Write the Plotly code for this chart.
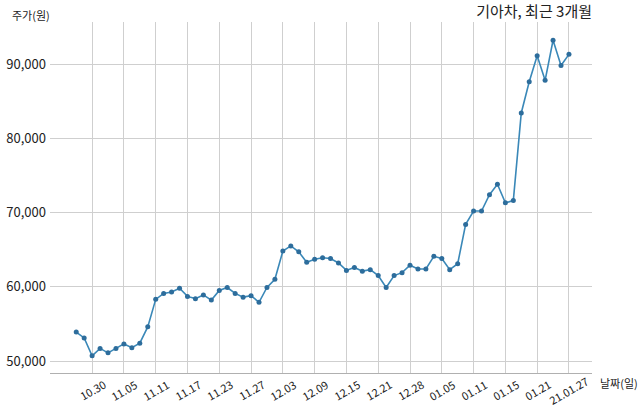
import plotly.graph_objects as go

dates = [
    "2020-10-28", "2020-10-29", "2020-10-30",
    "2020-11-02", "2020-11-03", "2020-11-04", "2020-11-05", "2020-11-06",
    "2020-11-09", "2020-11-10", "2020-11-11", "2020-11-12", "2020-11-13",
    "2020-11-16", "2020-11-17", "2020-11-18", "2020-11-19", "2020-11-20",
    "2020-11-23", "2020-11-24", "2020-11-25", "2020-11-26", "2020-11-27",
    "2020-11-30",
    "2020-12-01", "2020-12-02", "2020-12-03", "2020-12-04",
    "2020-12-07", "2020-12-08", "2020-12-09", "2020-12-10", "2020-12-11",
    "2020-12-14", "2020-12-15", "2020-12-16", "2020-12-17", "2020-12-18",
    "2020-12-21", "2020-12-22", "2020-12-23", "2020-12-24",
    "2020-12-28", "2020-12-29", "2020-12-30",
    "2021-01-04", "2021-01-05", "2021-01-06", "2021-01-07", "2021-01-08",
    "2021-01-11", "2021-01-12", "2021-01-13", "2021-01-14", "2021-01-15",
    "2021-01-18", "2021-01-19", "2021-01-20", "2021-01-21", "2021-01-22",
    "2021-01-25", "2021-01-26", "2021-01-27",
]

prices = [
    53900, 53100, 50700,
    51700, 51100, 51700, 52300, 51800,
    52400, 54600, 58300, 59100, 59300,
    59800, 58700, 58400, 58900, 58200,
    59500, 59900, 59100, 58600, 58800,
    57900,
    59900, 61000, 64800, 65500,
    64700, 63300, 63700, 63900, 63800,
    63200, 62200, 62600, 62100, 62300,
    61500, 59900, 61500, 61900,
    62900, 62400, 62400,
    64100, 63800, 62300, 63100, 68400,
    70200, 70200, 72400, 73800, 71300,
    71600, 83400, 87600, 91100, 87800,
    93200, 89800, 91300,
]

tick_dates = [
    "2020-10-30", "2020-11-05", "2020-11-11", "2020-11-17", "2020-11-23",
    "2020-11-27", "2020-12-03", "2020-12-09", "2020-12-15", "2020-12-21",
    "2020-12-28", "2021-01-05", "2021-01-11", "2021-01-15", "2021-01-21",
    "2021-01-27",
]
tick_labels = [
    "10.30", "11.05", "11.11", "11.17", "11.23", "11.27", "12.03", "12.09",
    "12.15", "12.21", "12.28", "01.05", "01.11", "01.15", "01.21", "21.01.27",
]

y_ticks = [50000, 60000, 70000, 80000, 90000]

title_text = "기아차, 최근 3개월"
y_label = "주가(원)"
x_label = "날짜(일)"

FONT = "Noto Sans CJK KR"
TXT = "#222222"
GRID = "#cfcfcf"

fig = go.Figure()
fig.add_trace(go.Scatter(
    x=dates, y=prices, mode="lines+markers",
    line=dict(color="#3a88b8", width=1.6),
    marker=dict(color="#2d6d9c", size=5),
    hoverinfo="x+y",
))

annotations = []
for d, lab in zip(tick_dates, tick_labels):
    annotations.append(dict(
        x=d, xref="x", y=-0.048, yref="paper", text=lab, showarrow=False,
        textangle=-30, xanchor="center", yanchor="middle",
        font=dict(family=FONT, size=11, color=TXT),
    ))
annotations.append(dict(
    x=-0.074, xref="paper", y=1.02, yref="paper", text=y_label, showarrow=False,
    xanchor="left", yanchor="middle", font=dict(family=FONT, size=11, color=TXT),
))
annotations.append(dict(
    x=1.011, xref="paper", y=-0.029, yref="paper", text=x_label, showarrow=False,
    xanchor="left", yanchor="middle", font=dict(family=FONT, size=11, color=TXT),
))

fig.update_layout(
    width=640, height=414,
    margin=dict(l=50, r=48, t=22, b=41),
    paper_bgcolor="white", plot_bgcolor="white",
    showlegend=False,
    title=dict(text=title_text, x=0.925, xanchor="right", xref="container",
               y=0.971, yanchor="middle", yref="container",
               font=dict(family=FONT, size=15, color=TXT)),
    annotations=annotations,
    xaxis=dict(
        type="category", categoryorder="array", categoryarray=dates,
        range=[-3.3, 64.9], tickvals=tick_dates, showticklabels=False,
        showgrid=True, gridcolor=GRID, gridwidth=1,
        showline=True, linecolor="#b0b0b0", linewidth=1,
        ticks="", zeroline=False, automargin=False, fixedrange=True,
    ),
    yaxis=dict(
        range=[48384, 95657], tickvals=y_ticks, tickformat=",d",
        showgrid=True, gridcolor=GRID, gridwidth=1,
        showline=False, ticks="", zeroline=False, automargin=False,
        tickfont=dict(family=FONT, size=13, color=TXT), ticklabelstandoff=3,
    ),
)

fig.write_html(
    "out.html",
    config={"displayModeBar": False},
    post_script="document.body.style.margin='0';document.body.style.padding='0';",
)
